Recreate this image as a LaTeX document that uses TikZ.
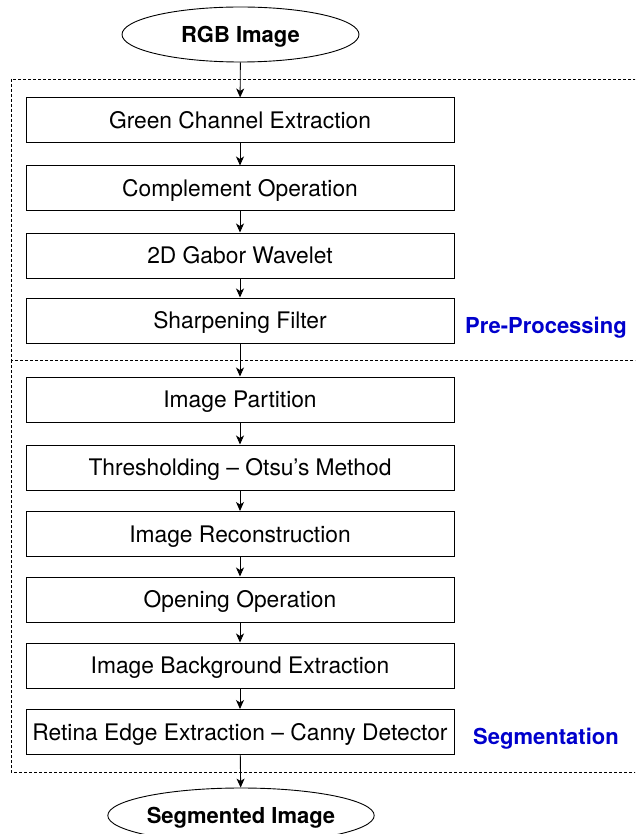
\documentclass[tikz,border=0pt]{standalone}
\usepackage{fontspec}
\setmainfont{TeX Gyre Heros}
\usetikzlibrary{shapes.geometric,arrows.meta}
\definecolor{labelblue}{HTML}{0000CC}
\begin{document}
\begin{tikzpicture}[x=1pt,y=1pt,
  every node/.style={font=\fontsize{22.8}{27}\selectfont, text height=16.3pt, text depth=0pt, inner sep=0pt},
  stepbox/.style={draw=black, line width=1pt, rectangle, minimum width=428pt, minimum height=45pt},
  endpoint/.style={draw=black, line width=0.9pt, ellipse, minimum width=237pt, minimum height=55pt, font=\fontsize{22}{26}\selectfont\bfseries, text height=15.8pt},
  flow/.style={draw=black, line width=0.9pt, -{Stealth[length=9pt,width=8pt,inset=2.5pt]}},
  groupline/.style={draw=black, line width=0.8pt, dash pattern=on 3pt off 2pt},
  grouplabel/.style={anchor=base west, text=labelblue, font=\fontsize{22}{26}\selectfont\bfseries}
]
\useasboundingbox (0,0) rectangle (635,-834);
\clip (0,0) rectangle (635,-834);

% processing groups
\draw[groupline] (11,-79) rectangle (660,-360);
\draw[groupline] (11,-360) rectangle (660,-772);

% input / output
\node[endpoint] (rgb) at (240.5,-34.5) {RGB Image};
\node[endpoint] (seg) at (241,-815.5) {Segmented Image};

% pre-processing steps
\node[stepbox] (green)   at (240,-120.5) {Green Channel Extraction};
\node[stepbox] (compl)   at (240,-188.5) {Complement Operation};
\node[stepbox] (gabor)   at (240,-255.5) {2D Gabor Wavelet};
\node[stepbox] (sharp)   at (240,-320.5) {Sharpening Filter};

% segmentation steps
\node[stepbox] (part)    at (240,-399.5) {Image Partition};
\node[stepbox] (otsu)    at (240,-467.5) {Thresholding -- Otsu’s Method};
\node[stepbox] (recon)   at (240,-534)   {Image Reconstruction};
\node[stepbox] (open)    at (240,-599.5) {Opening Operation};
\node[stepbox] (backg)   at (240,-665.5) {Image Background Extraction};
\node[stepbox] (canny)   at (240,-732)   {Retina Edge Extraction -- Canny Detector};

% group labels
\node[grouplabel] (prelabel) at (465,-333) {Pre-Processing};
\node[grouplabel] (seglabel) at (473,-744) {Segmentation};

% connectors
\draw[flow] (rgb) -- (green);
\draw[flow] (green) -- (compl);
\draw[flow] (compl) -- (gabor);
\draw[flow] (gabor) -- (sharp);
\draw[flow] (sharp) -- (part);
\draw[flow] (part) -- (otsu);
\draw[flow] (otsu) -- (recon);
\draw[flow] (recon) -- (open);
\draw[flow] (open) -- (backg);
\draw[flow] (backg) -- (canny);
\draw[flow] (canny) -- (seg);
\end{tikzpicture}
\end{document}
